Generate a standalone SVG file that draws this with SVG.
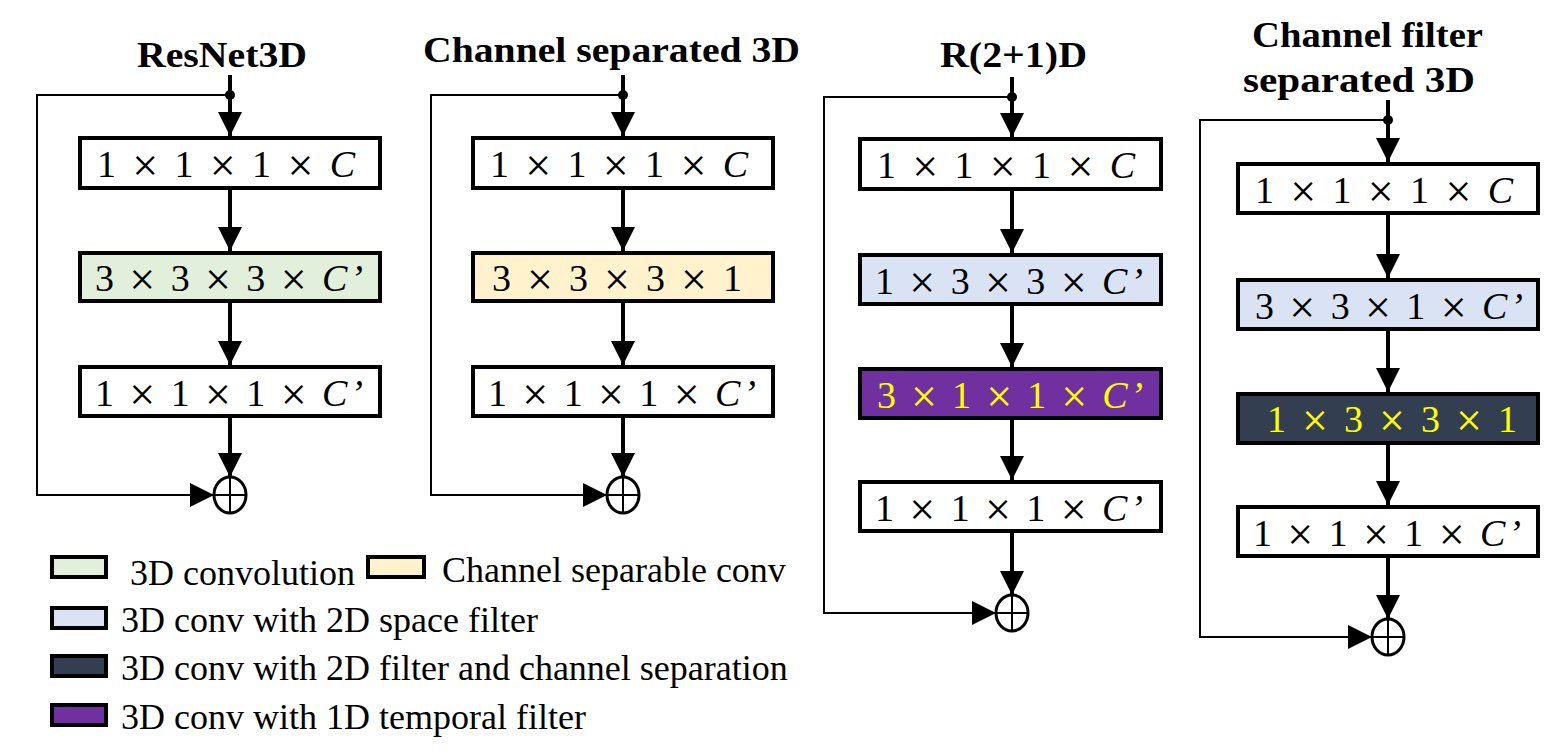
<svg xmlns="http://www.w3.org/2000/svg" width="1563" height="751" viewBox="0 0 1563 751">
<defs>
<marker id="ah" markerUnits="userSpaceOnUse" markerWidth="24" markerHeight="24" refX="24" refY="12" orient="auto" viewBox="0 0 24 24">
<path d="M0,0 L24,12 L0,24 z" fill="#000"/>
</marker>
</defs>
<style>
.box{stroke:#000;stroke-width:4}
.w{fill:#fff}.g{fill:#e2efda}.y{fill:#fff2cc}.b{fill:#dae3f3}.p{fill:#7030a0}.d{fill:#333f50}
.t{font-family:"Liberation Serif","Times New Roman",serif;font-size:38px;fill:#000}
.t tspan.x{font-size:46px}
.t tspan.c{font-style:italic}
.ty{fill:#ffff00}
.title{font-family:"Liberation Serif","Times New Roman",serif;font-size:36px;font-weight:bold;fill:#000}
.leg{font-family:"Liberation Serif","Times New Roman",serif;font-size:36px;fill:#000}
.main{stroke:#000;stroke-width:4;fill:none}
.skip{stroke:#000;stroke-width:2;fill:none}
.sum{fill:#fff;stroke:#000;stroke-width:3}
.plus{stroke:#000;stroke-width:2}
</style>

<g id="titles">
<text class="title" x="137" y="67" textLength="170" lengthAdjust="spacingAndGlyphs">ResNet3D</text>
<text class="title" x="423" y="62" textLength="377" lengthAdjust="spacingAndGlyphs">Channel separated 3D</text>
<text class="title" x="940" y="67" textLength="147" lengthAdjust="spacingAndGlyphs">R(2+1)D</text>
<text class="title" x="1252" y="47" textLength="231" lengthAdjust="spacingAndGlyphs">Channel filter</text>
<text class="title" x="1243" y="92" textLength="232" lengthAdjust="spacingAndGlyphs">separated 3D</text>
</g>

<g id="connectors">
<!-- column 1 -->
<line class="main" x1="230" y1="75" x2="230" y2="136" marker-end="url(#ah)"/>
<circle cx="230" cy="95" r="5" fill="#000"/>
<polyline class="skip" points="230,95 37,95 37,495 214,495" marker-end="url(#ah)"/>
<line class="main" x1="230" y1="190" x2="230" y2="251" marker-end="url(#ah)"/>
<line class="main" x1="230" y1="303" x2="230" y2="365" marker-end="url(#ah)"/>
<line class="main" x1="230" y1="418" x2="230" y2="477" marker-end="url(#ah)"/>
<!-- column 2 -->
<line class="main" x1="623" y1="75" x2="623" y2="136" marker-end="url(#ah)"/>
<circle cx="623" cy="95" r="5" fill="#000"/>
<polyline class="skip" points="623,95 431,95 431,495 607,495" marker-end="url(#ah)"/>
<line class="main" x1="623" y1="190" x2="623" y2="251" marker-end="url(#ah)"/>
<line class="main" x1="623" y1="303" x2="623" y2="365" marker-end="url(#ah)"/>
<line class="main" x1="623" y1="418" x2="623" y2="477" marker-end="url(#ah)"/>
<!-- column 3 -->
<line class="main" x1="1012" y1="77" x2="1012" y2="137" marker-end="url(#ah)"/>
<circle cx="1012" cy="97" r="5" fill="#000"/>
<polyline class="skip" points="1012,97 824,97 824,613 996,613" marker-end="url(#ah)"/>
<line class="main" x1="1012" y1="191" x2="1012" y2="253" marker-end="url(#ah)"/>
<line class="main" x1="1012" y1="306" x2="1012" y2="367" marker-end="url(#ah)"/>
<line class="main" x1="1012" y1="420" x2="1012" y2="480" marker-end="url(#ah)"/>
<line class="main" x1="1012" y1="533" x2="1012" y2="595" marker-end="url(#ah)"/>
<!-- column 4 -->
<line class="main" x1="1388" y1="100" x2="1388" y2="162" marker-end="url(#ah)"/>
<circle cx="1388" cy="120" r="5" fill="#000"/>
<polyline class="skip" points="1388,120 1200,120 1200,637 1372,637" marker-end="url(#ah)"/>
<line class="main" x1="1388" y1="215" x2="1388" y2="278" marker-end="url(#ah)"/>
<line class="main" x1="1388" y1="331" x2="1388" y2="392" marker-end="url(#ah)"/>
<line class="main" x1="1388" y1="445" x2="1388" y2="505" marker-end="url(#ah)"/>
<line class="main" x1="1388" y1="558" x2="1388" y2="619" marker-end="url(#ah)"/>
</g>

<!-- column 1 nodes -->
<g id="c1b1"><rect class="box w" x="80" y="138" width="300" height="50"/><text class="t" x="97" y="177" textLength="258">1 <tspan class="x" dy="4">×</tspan><tspan dy="-4"> 1 </tspan><tspan class="x" dy="4">×</tspan><tspan dy="-4"> 1 </tspan><tspan class="x" dy="4">×</tspan><tspan dy="-4"> </tspan><tspan class="c">C</tspan></text></g>
<g id="c1b2"><rect class="box g" x="80" y="253" width="300" height="48"/><text class="t" x="95" y="291" textLength="268">3 <tspan class="x" dy="4">×</tspan><tspan dy="-4"> 3 </tspan><tspan class="x" dy="4">×</tspan><tspan dy="-4"> 3 </tspan><tspan class="x" dy="4">×</tspan><tspan dy="-4"> </tspan><tspan class="c">C’</tspan></text></g>
<g id="c1b3"><rect class="box w" x="80" y="367" width="300" height="49"/><text class="t" x="95" y="406" textLength="268">1 <tspan class="x" dy="4">×</tspan><tspan dy="-4"> 1 </tspan><tspan class="x" dy="4">×</tspan><tspan dy="-4"> 1 </tspan><tspan class="x" dy="4">×</tspan><tspan dy="-4"> </tspan><tspan class="c">C’</tspan></text></g>
<g id="c1sum"><ellipse class="sum" cx="230" cy="495" rx="16" ry="18"/><line class="plus" x1="215" y1="495" x2="245" y2="495"/><line class="plus" x1="230" y1="478" x2="230" y2="512"/></g>

<!-- column 2 nodes -->
<g id="c2b1"><rect class="box w" x="473" y="138" width="300" height="50"/><text class="t" x="490" y="177" textLength="258">1 <tspan class="x" dy="4">×</tspan><tspan dy="-4"> 1 </tspan><tspan class="x" dy="4">×</tspan><tspan dy="-4"> 1 </tspan><tspan class="x" dy="4">×</tspan><tspan dy="-4"> </tspan><tspan class="c">C</tspan></text></g>
<g id="c2b2"><rect class="box y" x="473" y="253" width="300" height="48"/><text class="t" x="492" y="291" textLength="250">3 <tspan class="x" dy="4">×</tspan><tspan dy="-4"> 3 </tspan><tspan class="x" dy="4">×</tspan><tspan dy="-4"> 3 </tspan><tspan class="x" dy="4">×</tspan><tspan dy="-4"> 1</tspan></text></g>
<g id="c2b3"><rect class="box w" x="473" y="367" width="300" height="49"/><text class="t" x="488" y="406" textLength="268">1 <tspan class="x" dy="4">×</tspan><tspan dy="-4"> 1 </tspan><tspan class="x" dy="4">×</tspan><tspan dy="-4"> 1 </tspan><tspan class="x" dy="4">×</tspan><tspan dy="-4"> </tspan><tspan class="c">C’</tspan></text></g>
<g id="c2sum"><ellipse class="sum" cx="623" cy="495" rx="16" ry="18"/><line class="plus" x1="608" y1="495" x2="638" y2="495"/><line class="plus" x1="623" y1="478" x2="623" y2="512"/></g>

<!-- column 3 nodes -->
<g id="c3b1"><rect class="box w" x="860" y="139" width="301" height="50"/><text class="t" x="877" y="178" textLength="258">1 <tspan class="x" dy="4">×</tspan><tspan dy="-4"> 1 </tspan><tspan class="x" dy="4">×</tspan><tspan dy="-4"> 1 </tspan><tspan class="x" dy="4">×</tspan><tspan dy="-4"> </tspan><tspan class="c">C</tspan></text></g>
<g id="c3b2"><rect class="box b" x="860" y="255" width="301" height="49"/><text class="t" x="875" y="294" textLength="268">1 <tspan class="x" dy="4">×</tspan><tspan dy="-4"> 3 </tspan><tspan class="x" dy="4">×</tspan><tspan dy="-4"> 3 </tspan><tspan class="x" dy="4">×</tspan><tspan dy="-4"> </tspan><tspan class="c">C’</tspan></text></g>
<g id="c3b3"><rect class="box p" x="860" y="369" width="301" height="49"/><text class="t ty" x="877" y="408" textLength="266">3 <tspan class="x" dy="4">×</tspan><tspan dy="-4"> 1 </tspan><tspan class="x" dy="4">×</tspan><tspan dy="-4"> 1 </tspan><tspan class="x" dy="4">×</tspan><tspan dy="-4"> </tspan><tspan class="c">C’</tspan></text></g>
<g id="c3b4"><rect class="box w" x="860" y="482" width="301" height="49"/><text class="t" x="875" y="521" textLength="268">1 <tspan class="x" dy="4">×</tspan><tspan dy="-4"> 1 </tspan><tspan class="x" dy="4">×</tspan><tspan dy="-4"> 1 </tspan><tspan class="x" dy="4">×</tspan><tspan dy="-4"> </tspan><tspan class="c">C’</tspan></text></g>
<g id="c3sum"><ellipse class="sum" cx="1012" cy="613" rx="16" ry="18"/><line class="plus" x1="997" y1="613" x2="1027" y2="613"/><line class="plus" x1="1012" y1="596" x2="1012" y2="630"/></g>

<!-- column 4 nodes -->
<g id="c4b1"><rect class="box w" x="1238" y="164" width="300" height="49"/><text class="t" x="1255" y="203" textLength="258">1 <tspan class="x" dy="4">×</tspan><tspan dy="-4"> 1 </tspan><tspan class="x" dy="4">×</tspan><tspan dy="-4"> 1 </tspan><tspan class="x" dy="4">×</tspan><tspan dy="-4"> </tspan><tspan class="c">C</tspan></text></g>
<g id="c4b2"><rect class="box b" x="1238" y="280" width="300" height="49"/><text class="t" x="1255" y="319" textLength="268">3 <tspan class="x" dy="4">×</tspan><tspan dy="-4"> 3 </tspan><tspan class="x" dy="4">×</tspan><tspan dy="-4"> 1 </tspan><tspan class="x" dy="4">×</tspan><tspan dy="-4"> </tspan><tspan class="c">C’</tspan></text></g>
<g id="c4b3"><rect class="box d" x="1238" y="394" width="300" height="49"/><text class="t ty" x="1267" y="432" textLength="250">1 <tspan class="x" dy="4">×</tspan><tspan dy="-4"> 3 </tspan><tspan class="x" dy="4">×</tspan><tspan dy="-4"> 3 </tspan><tspan class="x" dy="4">×</tspan><tspan dy="-4"> 1</tspan></text></g>
<g id="c4b4"><rect class="box w" x="1238" y="507" width="300" height="49"/><text class="t" x="1253" y="546" textLength="268">1 <tspan class="x" dy="4">×</tspan><tspan dy="-4"> 1 </tspan><tspan class="x" dy="4">×</tspan><tspan dy="-4"> 1 </tspan><tspan class="x" dy="4">×</tspan><tspan dy="-4"> </tspan><tspan class="c">C’</tspan></text></g>
<g id="c4sum"><ellipse class="sum" cx="1388" cy="637" rx="16" ry="18"/><line class="plus" x1="1373" y1="637" x2="1403" y2="637"/><line class="plus" x1="1388" y1="620" x2="1388" y2="654"/></g>

<g id="legend">
<rect class="box g" x="52" y="557" width="54" height="20"/>
<text class="leg" x="130" y="585">3D convolution</text>
<rect class="box y" x="368" y="557" width="56" height="20"/>
<text class="leg" x="442" y="582">Channel separable conv</text>
<rect class="box b" x="52" y="608" width="54" height="20"/>
<text class="leg" x="121" y="632">3D conv with 2D space filter</text>
<rect class="box d" x="52" y="656" width="54" height="20"/>
<text class="leg" x="121" y="680">3D conv with 2D filter and channel separation</text>
<rect class="box p" x="52" y="705" width="54" height="20"/>
<text class="leg" x="121" y="729">3D conv with 1D temporal filter</text>
</g>
</svg>
